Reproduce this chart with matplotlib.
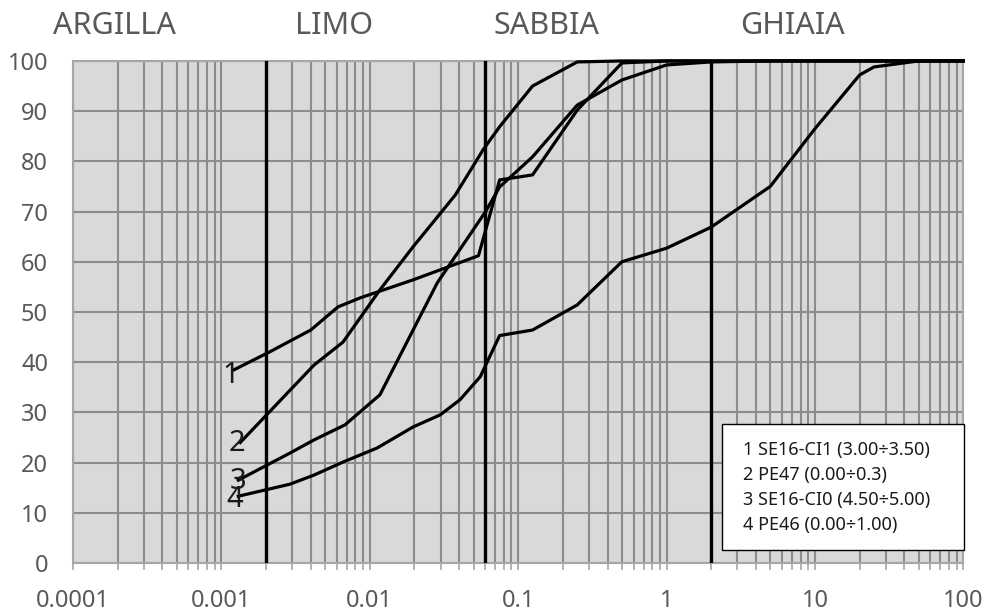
import matplotlib
matplotlib.use("Agg")
import matplotlib.pyplot as plt
from matplotlib.ticker import LogLocator, NullFormatter, MultipleLocator
from matplotlib.patches import Rectangle

# grain size [mm] vs passing [%]
x1 = [0.0012, 0.0021, 0.0040, 0.0061, 0.0086, 0.0196, 0.054, 0.075, 0.125, 0.25, 0.5, 1, 2, 5, 10, 20, 50, 100]
y1 = [38.4, 42.0, 46.4, 51.0, 52.8, 56.4, 61.2, 76.3, 77.3, 90.2, 99.6, 100, 100, 100, 100, 100, 100, 100]

x2 = [0.00134, 0.0042, 0.0066, 0.0117, 0.0196, 0.0377, 0.058, 0.075, 0.125, 0.25, 0.5, 1, 2, 5, 10, 20, 50, 100]
y2 = [24.0, 39.4, 44.0, 54.4, 63.0, 73.3, 82.3, 86.9, 95.0, 99.8, 100, 100, 100, 100, 100, 100, 100, 100]

x3 = [0.0013, 0.0029, 0.0042, 0.0068, 0.0117, 0.0285, 0.06, 0.075, 0.125, 0.25, 0.5, 1, 2, 5, 10, 20, 50, 100]
y3 = [16.5, 21.9, 24.5, 27.5, 33.5, 55.8, 69.9, 74.9, 80.9, 91.2, 96.2, 99.2, 99.8, 100, 100, 100, 100, 100]

x4 = [0.0013, 0.0029, 0.0042, 0.0066, 0.0112, 0.0196, 0.0298, 0.0405, 0.0555, 0.075, 0.125, 0.25, 0.5, 1, 2, 5, 10, 20, 25, 50, 100]
y4 = [13.3, 15.7, 17.5, 20.1, 22.9, 27.1, 29.5, 32.5, 37.1, 45.3, 46.4, 51.4, 60.0, 62.7, 66.9, 75.0, 86.5, 97.2, 98.8, 100, 100]

# class boundaries [mm]
limits = [0.002, 0.06, 2]
classes = ["ARGILLA", "LIMO", "SABBIA", "GHIAIA"]
xticks = [0.0001, 0.001, 0.01, 0.1, 1, 10, 100]
xtick_labels = ["0.0001", "0.001", "0.01", "0.1", "1", "10", "100"]
legend_lines = ["1 SE16-CI1 (3.00\u00f73.50)", "2 PE47 (0.00\u00f70.3)",
                "3 SE16-CI0 (4.50\u00f75.00)", "4 PE46 (0.00\u00f71.00)"]
curve_ids = ["1", "2", "3", "4"]
id_x = [0.00116, 0.00128, 0.0013, 0.00123]
id_y = [37.3, 23.7, 16.3, 12.7]

plt.rcParams['font.family'] = ['Noto Sans', 'DejaVu Sans']

fig = plt.figure(figsize=(9.87, 6.13), dpi=100)
ax = fig.add_axes([0.074, 0.0816, 0.902, 0.819])
ax.set_facecolor('#d9d9d9')

ax.set_xscale('log')
ax.set_xlim(1e-4, 100)
ax.set_ylim(0, 100)

ax.set_xticks(xticks)
ax.set_xticklabels(xtick_labels)
ax.xaxis.set_minor_locator(LogLocator(base=10, subs=range(2, 10), numticks=20))
ax.xaxis.set_minor_formatter(NullFormatter())
ax.yaxis.set_major_locator(MultipleLocator(10))
ax.set_xlim(1e-4, 100)

ax.grid(True, which='both', axis='x', color='#8c8c8c', lw=1.5)
ax.grid(True, which='major', axis='y', color='#8c8c8c', lw=1.5)
ax.set_axisbelow(True)

for s in ax.spines.values():
    s.set_color('#a6a6a6')
    s.set_linewidth(1.5)

ax.tick_params(axis='x', which='both', colors='#a6a6a6', labelcolor='#595959',
               labelsize=17, direction='out', length=5, width=1.2, pad=14)
ax.tick_params(axis='y', which='both', length=0, labelcolor='#595959',
               labelsize=17, pad=18)

for xv in limits:
    ax.axvline(xv, color='black', lw=2.4, zorder=3)

for xs, ys in [(x1, y1), (x2, y2), (x3, y3), (x4, y4)]:
    ax.plot(xs, ys, color='black', lw=2.3, zorder=4, clip_on=False)

for t, xv, yv in zip(curve_ids, id_x, id_y):
    ax.text(xv, yv, t, ha='center', va='center', fontsize=21, color='#1a1a1a',
            fontweight='light', zorder=5)

# legend box
ax.add_patch(Rectangle((0.729, 0.026), 0.272, 0.251, transform=ax.transAxes,
                       facecolor='white', edgecolor='black', lw=1.0, zorder=6,
                       clip_on=False))
for i, line in enumerate(legend_lines):
    ax.text(0.753, 0.225 - i * 0.0495, line, transform=ax.transAxes,
            ha='left', va='center', fontsize=13, color='#1a1a1a', zorder=7)

# class names above the plot
for name, px in zip(classes, [114, 334, 546, 792]):
    fig.text(px / 987, 1 - 26 / 613, name, ha='center', va='center',
             fontsize=22, color='#595959')

fig.savefig("out.png", dpi=100)
